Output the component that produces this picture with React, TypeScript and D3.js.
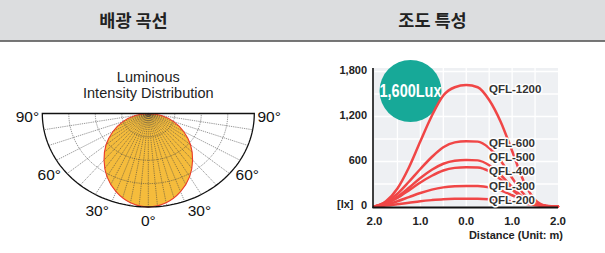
import React from 'react'
import * as d3 from 'd3'

const width = 605
const height = 253

// ------- data --------//
const HEADER_TITLES = ['배광 곡선', '조도 특성']
const POLAR_TITLE = ['Luminous', 'Intensity Distribution']
const POLAR_ANGLE_LABELS = [90, 60, 30, 0]
const RING_LEVELS = [0.25, 0.5, 0.75]
const INTENSITY_ANGLES = [0, 10, 20, 30, 40, 50, 60, 70, 80, 90]
const RELATIVE_INTENSITY = [1.0, 0.97, 0.89, 0.78, 0.65, 0.52, 0.385, 0.255, 0.125, 0]

const DISTANCE = [-2, -1.75, -1.5, -1.25, -1, -0.75, -0.5, -0.25, 0, 0.25, 0.5, 0.75, 1, 1.25, 1.5, 1.75, 2]
const SERIES_NAMES = ['QFL-1200', 'QFL-600', 'QFL-500', 'QFL-400', 'QFL-300', 'QFL-200']
const QFL_1200 = [0, 70, 240, 520, 870, 1210, 1480, 1590, 1620, 1590, 1420, 1130, 740, 340, 90, 10, 0]
const QFL_600 = [0, 60, 170, 330, 500, 660, 790, 855, 870, 865, 780, 610, 380, 170, 45, 5, 0]
const QFL_500 = [0, 45, 130, 250, 380, 490, 570, 610, 620, 615, 550, 420, 260, 115, 32, 5, 0]
const QFL_400 = [0, 40, 115, 215, 320, 410, 480, 515, 525, 520, 470, 360, 225, 105, 30, 4, 0]
const QFL_300 = [0, 25, 70, 125, 180, 225, 255, 270, 275, 272, 255, 215, 150, 85, 32, 6, 0]
const QFL_200 = [0, 12, 30, 50, 70, 85, 97, 103, 105, 104, 98, 85, 65, 40, 18, 5, 0]
const SERIES = [QFL_1200, QFL_600, QFL_500, QFL_400, QFL_300, QFL_200]
const Y_TICKS = [0, 600, 1200, 1800]
const X_TICKS = [-2, -1, 0, 1, 2]
const PEAK_LABEL = '1,600Lux'
const UNIT_LABEL = '[lx]'
const X_TITLE = 'Distance (Unit: m)'

const latin = '"Liberation Sans", Arial, sans-serif'
const korean = '"Noto Sans CJK KR", "Noto Sans", sans-serif'

// ------- polar geometry --------//
const pcx = 148.3, pcy = 113.5, RX = 106, RY = 93.5
const rScale = d3.scaleLinear().domain([0, 1]).range([0, 1])
const toXY = (deg: number, r: number): [number, number] => {
  const a = (deg * Math.PI) / 180
  return [pcx + RX * rScale(r) * Math.sin(a), pcy + RY * rScale(r) * Math.cos(a)]
}

// ------- illuminance scales --------//
const xScale = d3.scaleLinear().domain([-2, 2]).range([374.5, 558])
const yScale = d3.scaleLinear().domain([0, 1800]).range([206.5, 71.5])

function PolarChart() {
  const arc = d3.line<[number, number]>()
  const rings = RING_LEVELS.map(lv => arc(d3.range(-90, 90.01, 2).map(d => toXY(d, lv))))
  const rim = arc(d3.range(-90, 90.01, 2).map(d => toXY(d, 1))) + 'Z'
  const spokes = d3.range(-90, 90.01, 10)
  const fineSpokes = d3.range(-85, 85.01, 10)

  const shapePts: [number, number][] = []
  for (let i = INTENSITY_ANGLES.length - 1; i > 0; i--) shapePts.push(toXY(-INTENSITY_ANGLES[i], RELATIVE_INTENSITY[i]))
  INTENSITY_ANGLES.forEach((a, i) => shapePts.push(toXY(a, RELATIVE_INTENSITY[i])))
  const shape = d3.line<[number, number]>().curve(d3.curveCatmullRom)(shapePts) + 'Z'

  const labelPos = (deg: number, side: number) => {
    const a = deg === 0 || deg === 90 ? deg : deg - 5
    const [x, y] = toXY(side * a, 1.14)
    return [x, deg === 90 ? y + 2.5 : y]
  }

  const dash = { stroke: '#444', strokeWidth: 0.55, strokeDasharray: '1.3 0.9' }

  return (
    <g>
      <defs>
        <clipPath id="beam-clip"><path d={shape} /></clipPath>
      </defs>
      {POLAR_TITLE.map((t, i) => (
        <text key={t} x={pcx} y={82 + i * 15.5} textAnchor="middle" fontFamily={latin} fontSize={14.5} fill="#222">{t}</text>
      ))}
      <path d={rim} fill="#fff" stroke="none" />
      <path d={shape} fill="#f5bc3c" stroke="none" />
      {rings.map((d, i) => (
        <path key={i} d={d ?? ''} fill="none" {...dash} />
      ))}
      {spokes.map(a => {
        const [x, y] = toXY(a, 1)
        return <line key={a} x1={pcx} y1={pcy} x2={x} y2={y} {...dash} />
      })}
      <g clipPath="url(#beam-clip)">
        {fineSpokes.map(a => {
          const [x, y] = toXY(a, 1)
          return <line key={a} x1={pcx} y1={pcy} x2={x} y2={y} {...dash} />
        })}
      </g>
      <path d={shape} fill="none" stroke="#ea3b2b" strokeWidth={1.1} />
      <path d={rim} fill="none" stroke="#111" strokeWidth={1.3} />
      {POLAR_ANGLE_LABELS.flatMap(deg => (deg === 0 ? [1] : [-1, 1]).map(side => {
        const [x, y] = labelPos(deg, side)
        return (
          <text key={deg + '_' + side} x={x} y={y} dy="0.36em" textAnchor="middle" fontFamily={latin} fontSize={15.5} fill="#111">{deg}°</text>
        )
      }))}
    </g>
  )
}

function IlluminanceChart() {
  const line = d3.line<number>()
    .x((_, i) => xScale(DISTANCE[i]))
    .y(d => yScale(d))
    .curve(d3.curveMonotoneX)
  const [x0, x1] = xScale.range()
  const top = yScale(1800) - 3.5
  const base = yScale(0)
  const gridX = d3.range(-1.5, 1.51, 0.5)
  const gridY = d3.range(300, 1801, 300)

  // labels of the small curves are stacked from the baseline up, the big one sits by its peak
  const labelY = (i: number) => i === 0 ? yScale(d3.max(SERIES[0]) as number) + 4 : base - 6.5 - (SERIES.length - 1 - i) * 14.4

  return (
    <g>
      <rect x={x0 - 1.5} y={top} width={x1 - x0 + 1.5} height={base - top} fill="#eef0f3" />
      {gridX.map(v => (
        <line key={v} x1={xScale(v)} x2={xScale(v)} y1={top} y2={base} stroke="#fff" strokeWidth={1.3} />
      ))}
      {gridY.map(v => (
        <line key={v} x1={x0} x2={x1} y1={yScale(v)} y2={yScale(v)} stroke="#fff" strokeWidth={1.3} />
      ))}
      <circle cx={410.5} cy={91} r={31} fill="#17a998" />
      <text x={410.5} y={91} dy="0.36em" textAnchor="middle" fontFamily={latin} fontWeight="bold" fontSize={17.5}
        fill="#fff" textLength={62} lengthAdjust="spacingAndGlyphs">{PEAK_LABEL}</text>
      {SERIES.map((s, i) => (
        <path key={SERIES_NAMES[i]} d={line(s) ?? ''} fill="none" stroke="#f04646" strokeWidth={2.5} strokeLinecap="round" />
      ))}
      <line x1={x0 - 1.5} x2={x0 - 1.5} y1={top} y2={base + 1.5} stroke="#111" strokeWidth={1.6} />
      <line x1={x0 - 2} x2={x1} y1={base + 1} y2={base + 1} stroke="#111" strokeWidth={2} />
      {SERIES_NAMES.map((n, i) => (
        <text key={n} x={489} y={labelY(i)} dy="0.36em" fontFamily={latin} fontWeight="bold" fontSize={11.5}
          fill="#333" stroke="#fff" strokeWidth={3} paintOrder="stroke" strokeLinejoin="round">{n}</text>
      ))}
      {Y_TICKS.map(v => (
        <text key={v} x={367} y={yScale(v) - 1} dy="0.36em" textAnchor="end" fontFamily={latin} fontWeight="bold" fontSize={11} fill="#222">
          {d3.format(',')(v)}
        </text>
      ))}
      <text x={337} y={yScale(0) - 2.5} dy="0.36em" fontFamily={latin} fontWeight="bold" fontSize={11} fill="#222">{UNIT_LABEL}</text>
      {X_TICKS.map(v => (
        <text key={v} x={xScale(v)} y={225} textAnchor="middle" fontFamily={latin} fontWeight="bold" fontSize={11.5} fill="#222">
          {d3.format('.1f')(Math.abs(v))}
        </text>
      ))}
      <text x={563} y={239} textAnchor="end" fontFamily={latin} fontWeight="bold" fontSize={11} fill="#222">{X_TITLE}</text>
    </g>
  )
}

export default function App() {
  return (
    <svg width={width} height={height} style={{ position: 'absolute', left: 0, top: 0, background: '#fff' }}>
      <rect x={0} y={0} width={width} height={40.5} fill="#dcdddf" />
      <line x1={0} x2={width} y1={41} y2={41} stroke="#4a4a4a" strokeWidth={1.5} />
      {HEADER_TITLES.map((t, i) => (
        <text key={t} x={i === 0 ? 133.5 : 432.5} y={21} dy="0.36em" textAnchor="middle" fontFamily={korean} fontWeight="bold" fontSize={17.5} fill="#222">{t}</text>
      ))}
      <PolarChart />
      <IlluminanceChart />
    </svg>
  )
}
